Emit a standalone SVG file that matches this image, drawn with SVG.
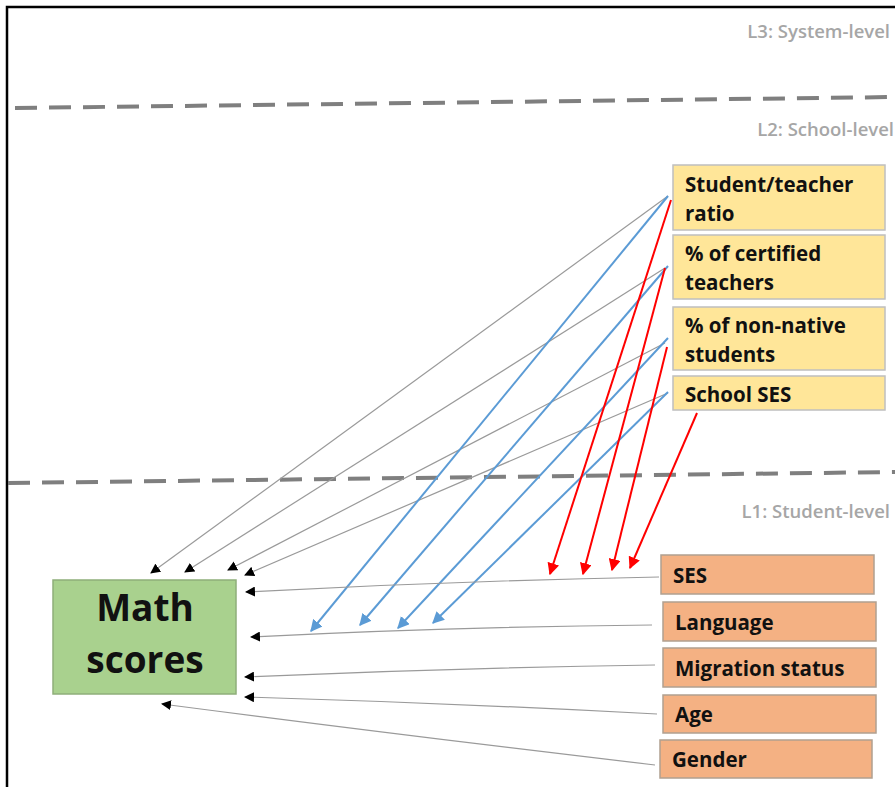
<svg xmlns="http://www.w3.org/2000/svg" width="895" height="787" viewBox="0 0 895 787">
<defs>
<style>
.frame{fill:none;stroke:#000;stroke-width:2.5}
.level{fill:none;stroke:#7f7f7f;stroke-width:4;stroke-dasharray:22 12}
.lvl{font-family:"Open Sans","Liberation Sans",sans-serif;font-weight:600;font-size:18.5px;fill:#a6a6a6;text-anchor:end}
.l2box{fill:#ffe699;stroke:#bfbfbf;stroke-width:1.5}
.l1box{fill:#f4b183;stroke:#b0a090;stroke-width:1.5}
.math{fill:#a9d18e;stroke:#8fae7a;stroke-width:1.5}
.t{font-family:"Open Sans","Liberation Sans",sans-serif;font-weight:700;font-size:20.5px;fill:#111}
.tm{font-family:"Open Sans","Liberation Sans",sans-serif;font-weight:700;font-size:37px;fill:#111;text-anchor:middle}
.g{fill:none;stroke:#9a9a9a;stroke-width:1.2;marker-end:url(#ak)}
.b{fill:none;stroke:#5b9bd5;stroke-width:2;marker-end:url(#ab)}
.r{fill:none;stroke:#ff0000;stroke-width:2;marker-end:url(#ar)}
</style>
<marker id="ak" viewBox="0 0 10 10" refX="9" refY="5" markerWidth="10" markerHeight="10" markerUnits="userSpaceOnUse" orient="auto"><path d="M0,0 L10,5 L0,10 Z" fill="#000"/></marker>
<marker id="ab" viewBox="0 0 10 10" refX="9" refY="5" markerWidth="12" markerHeight="12" markerUnits="userSpaceOnUse" orient="auto"><path d="M0,0 L10,5 L0,10 Z" fill="#5b9bd5"/></marker>
<marker id="ar" viewBox="0 0 10 10" refX="9" refY="5" markerWidth="12" markerHeight="12" markerUnits="userSpaceOnUse" orient="auto"><path d="M0,0 L10,5 L0,10 Z" fill="#ff0000"/></marker>
</defs>
<rect width="895" height="787" fill="#fff"/>
<path class="frame" d="M7,787 V7 H895"/>
<g id="levels">
<line class="level" x1="15" y1="108" x2="895" y2="97"/>
<line class="level" x1="8" y1="483" x2="895" y2="472"/>
<text class="lvl" x="890" y="38">L3: System-level</text>
<text class="lvl" x="894" y="136">L2: School-level</text>
<text class="lvl" x="890" y="518">L1: Student-level</text>
</g>
<g id="connectors">
<line class="g" x1="668" y1="196" x2="151" y2="573"/>
<line class="g" x1="665" y1="268" x2="185" y2="572"/>
<line class="g" x1="665" y1="343" x2="228" y2="570"/>
<line class="g" x1="668" y1="393" x2="245" y2="575"/>
<line class="b" x1="668" y1="196" x2="311" y2="631"/>
<line class="b" x1="668" y1="266" x2="360" y2="625"/>
<line class="b" x1="668" y1="338" x2="398" y2="628"/>
<line class="b" x1="668" y1="392" x2="433" y2="623"/>
<line class="r" x1="671" y1="200" x2="550" y2="574"/>
<line class="r" x1="665" y1="268" x2="583" y2="574"/>
<line class="r" x1="667" y1="347" x2="612" y2="570"/>
<line class="r" x1="697" y1="413" x2="630" y2="568"/>
<path class="g" d="M659,577 Q450,581 246,592"/>
<path class="g" d="M652,625 Q450,627 251,637"/>
<path class="g" d="M655,665 Q450,668 245,677"/>
<path class="g" d="M657,714 Q450,703 245,697"/>
<path class="g" d="M655,765 Q400,735 162,704"/>
</g>
<g id="student-teacher-ratio">
<rect class="l2box" x="673" y="165" width="212" height="65"/>
<text class="t" x="685" y="192">Student/teacher</text>
<text class="t" x="685" y="221">ratio</text>
</g>
<g id="certified-teachers">
<rect class="l2box" x="673" y="235" width="212" height="64"/>
<text class="t" x="685" y="261">% of certified</text>
<text class="t" x="685" y="290">teachers</text>
</g>
<g id="non-native-students">
<rect class="l2box" x="673" y="307" width="212" height="63"/>
<text class="t" x="685" y="333">% of non-native</text>
<text class="t" x="685" y="362">students</text>
</g>
<g id="school-ses">
<rect class="l2box" x="673" y="376" width="212" height="34"/>
<text class="t" x="685" y="402">School SES</text>
</g>
<g id="math-scores">
<rect class="math" x="53" y="580" width="183" height="114"/>
<text class="tm" x="145" y="621">Math</text>
<text class="tm" x="145" y="673">scores</text>
</g>
<g id="ses">
<rect class="l1box" x="661" y="555" width="213" height="39"/>
<text class="t" x="673" y="583">SES</text>
</g>
<g id="language">
<rect class="l1box" x="663" y="602" width="213" height="39"/>
<text class="t" x="675" y="630">Language</text>
</g>
<g id="migration-status">
<rect class="l1box" x="663" y="648" width="213" height="39"/>
<text class="t" x="675" y="676">Migration status</text>
</g>
<g id="age">
<rect class="l1box" x="663" y="695" width="213" height="38"/>
<text class="t" x="675" y="722">Age</text>
</g>
<g id="gender">
<rect class="l1box" x="660" y="740" width="212" height="38"/>
<text class="t" x="672" y="767">Gender</text>
</g>
</svg>
